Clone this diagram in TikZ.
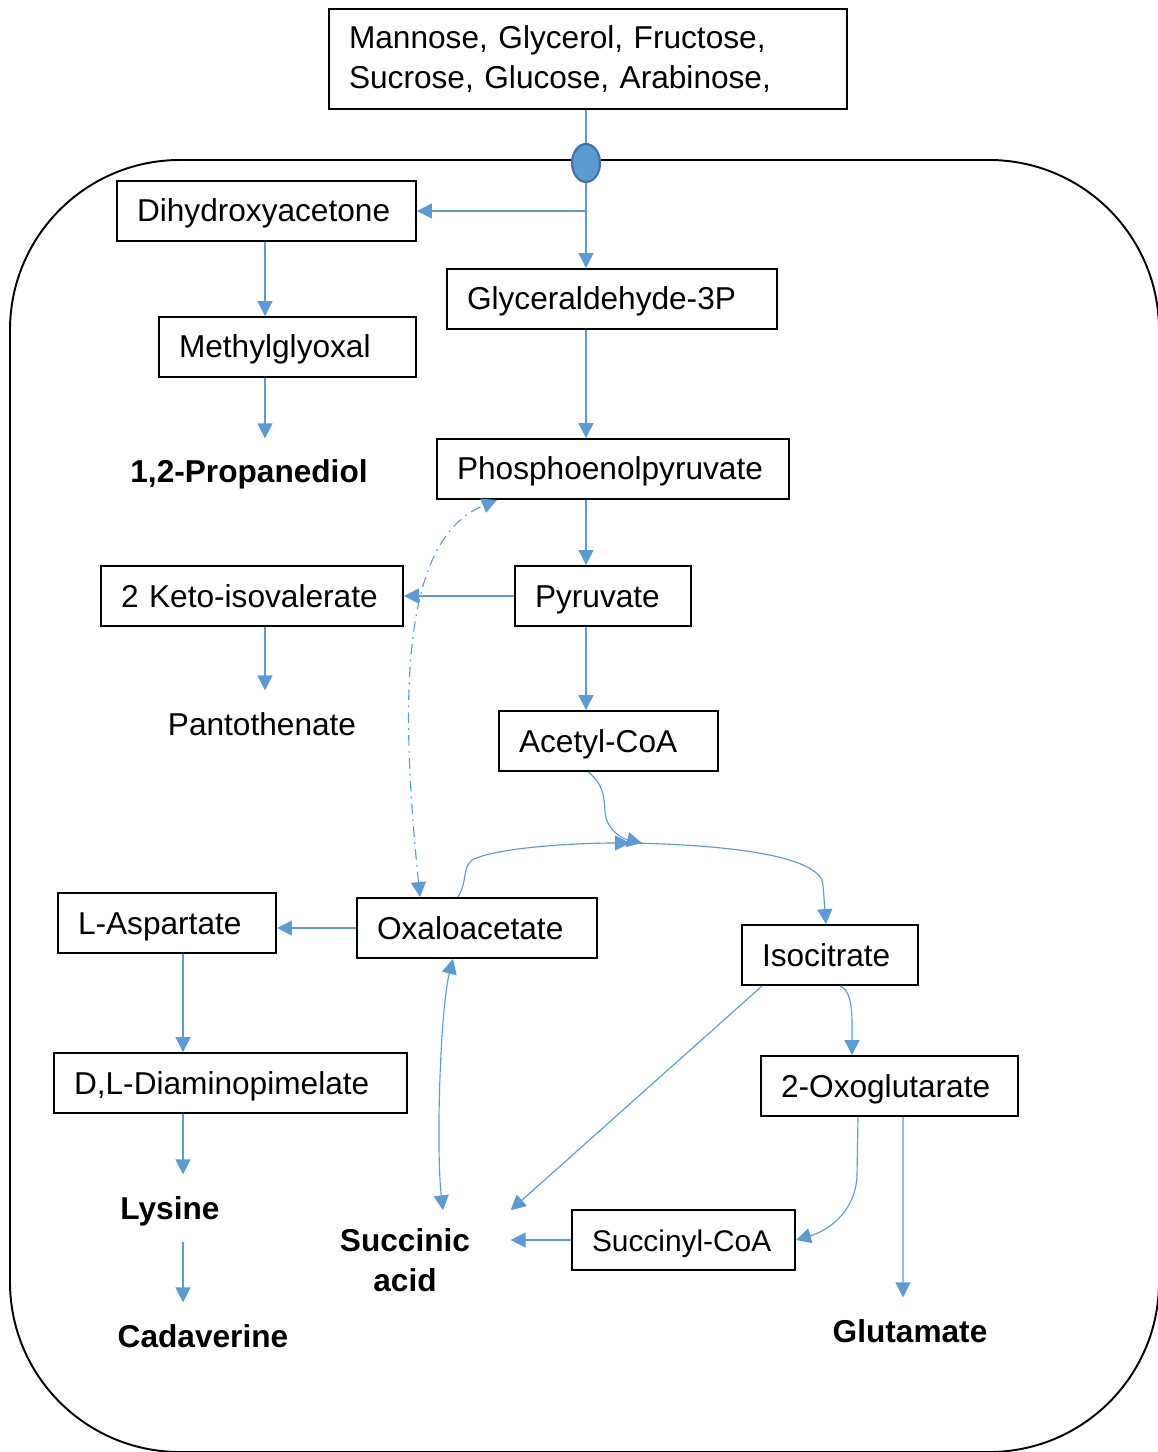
\documentclass[tikz,border=0pt]{standalone}
\usepackage{fontspec}
\setmainfont{Liberation Sans}
\usetikzlibrary{arrows.meta,shapes.geometric}
\definecolor{flowblue}{HTML}{5B9BD5}
\definecolor{portblue}{HTML}{41719C}
\hyphenpenalty=10000
\exhyphenpenalty=10000

\begin{document}
\begin{tikzpicture}[->,>={Triangle[length=0.3cm,width=0.3cm]},x=0.02cm,y=-0.02cm,
                    draw=flowblue,line width=0.65pt,
                    every node/.style={font=\fontsize{18}{22.8}\selectfont}]
  \tikzstyle{box}=[draw=black,line width=1.1pt,inner xsep=0.4cm,minimum height=1.2cm,align=left,
                   text height=0.58cm,text depth=0.14cm]
  \tikzstyle{prod}=[inner sep=0.3cm,font=\fontsize{18}{22.8}\selectfont\bfseries,
                    text height=0.58cm,text depth=0.14cm]
  \tikzstyle{lbl}=[inner sep=0.3cm,text height=0.58cm,text depth=0.14cm]

  \useasboundingbox (0,0) rectangle (1157,1452);
  % the cell
  \draw[-,black,line width=1.1pt,rounded corners=3.4cm] (10,160) rectangle (1159,1452);

  \node[draw=black,line width=1.1pt,align=left,text width=9.56cm,inner xsep=0.4cm,
        minimum height=2cm] (S) at (588,59)
       {Mannose, Glycerol, Fructose,\\Sucrose, Glucose, Arabinose,};
  \node[ellipse,draw=portblue,fill=flowblue,line width=1.2pt,minimum width=0.56cm,
        minimum height=0.76cm,inner sep=0pt] (T) at (586,163) {};

  \node[box,text width=5.18cm] (DHA) at (266.5,211)  {Dihydroxyacetone};
  \node[box,text width=5.80cm] (G3P) at (612,299)    {Glyceraldehyde-3P};
  \node[box,text width=4.34cm] (MG)  at (287.5,347)  {Methylglyoxal};
  \node[prod]                  (PD)  at (249,472)    {1,2-Propanediol};
  \node[box,text width=6.24cm] (PEP) at (613,469)    {Phosphoenolpyruvate};
  \node[box,text width=5.24cm] (KIV) at (252,596)    {2 Keto-isovalerate};
  \node[box,text width=2.72cm] (PYR) at (603,596)    {Pyruvate};
  \node[lbl]                   (PAN) at (262,724)    {Pantothenate};
  \node[box,text width=3.58cm] (ACO) at (608.5,741)  {Acetyl-CoA};
  \node[box,text width=3.56cm] (ASP) at (167,923)    {L-Aspartate};
  \node[box,text width=4.00cm] (OAA) at (477,928)    {Oxaloacetate};
  \node[box,text width=2.72cm] (ISO) at (830,955)    {Isocitrate};
  \node[box,text width=6.26cm] (DAP) at (230.5,1083) {D,L-Diaminopimelate};
  \node[box,text width=4.34cm] (OXG) at (889.5,1086) {2-Oxoglutarate};
  \node[prod]                  (LYS) at (170,1208)   {Lysine};
  \node[inner sep=0.35cm,inner xsep=0.8cm,font=\fontsize{18}{22.8}\selectfont\bfseries,
        align=center] (SA) at (405,1260) {Succinic\\acid};
  \node[box,text width=3.66cm,font=\fontsize{17}{22}\selectfont] (SCA) at (683.5,1240) {Succinyl-CoA};
  \node[prod]                  (CAD) at (203,1336)   {Cadaverine};
  \node[prod]                  (GLU) at (910,1331)   {Glutamate};

  \coordinate (c1) at (183,0);
  \coordinate (c2) at (265,0);
  \coordinate (J)  at (630,843);
  \coordinate (J2) at (642,843);

  \draw[-] (S.south -| T) -- (T);
  \path (T) edge (T |- G3P.north)
        (T |- DHA) edge (DHA)
        (c2 |- DHA.south) edge (c2 |- MG.north)
        (c2 |- MG.south) edge (c2 |- PD.north)
        (T |- G3P.south) edge (T |- PEP.north)
        (T |- PEP.south) edge (T |- PYR.north)
        (PYR) edge (PYR -| KIV.east)
        (c2 |- KIV.south) edge (c2 |- PAN.north)
        (T |- PYR.south) edge (T |- ACO.north)
        (OAA) edge (OAA -| ASP.east)
        (c1 |- ASP.south) edge (c1 |- DAP.north)
        (c1 |- DAP.south) edge (c1 |- LYS.north)
        (c1 |- LYS.south) edge (c1 |- CAD.north)
        (SCA) edge (SCA -| SA.east);

  % PEP <-> oxaloacetate
  \draw[<->,dash pattern=on 6pt off 3pt on 1pt off 3pt] ([xshift=-1.14cm]OAA.north)
       .. controls (400,700) and (400,540) .. ([xshift=-2.32cm]PEP.south);
  % citrate cycle
  \draw ([xshift=-0.41cm]ACO.south) .. controls (605,785) and (604,800) .. (605,812)
       .. controls (606,828) and (620,838) .. (J2);
  \draw ([xshift=-0.38cm]OAA.north) .. controls (468,880) and (462,868) .. (472,860)
       .. controls (495,848) and (570,843) .. (J);
  \draw (J) .. controls (740,845) and (822,858) .. (823,885) -- ([xshift=-0.08cm]ISO.north);
  \draw ([xshift=-1.36cm]ISO.south) -- (SA.north east);
  \draw ([xshift=0.2cm]ISO.south) .. controls (850,990) and (852,1005) .. (852,1025)
       -- ([xshift=-0.75cm]OXG.north);
  \draw ([xshift=-0.63cm]OXG.south) -- (857,1175) .. controls (856,1210) and (830,1230) .. (SCA.east);
  \draw ([xshift=0.27cm]OXG.south) -- ([xshift=-0.14cm]GLU.north);
  \draw[<->] ([xshift=-0.48cm]OAA.south) .. controls (440,1010) and (436,1150) .. ([xshift=0.76cm]SA.north);
\end{tikzpicture}
\end{document}
